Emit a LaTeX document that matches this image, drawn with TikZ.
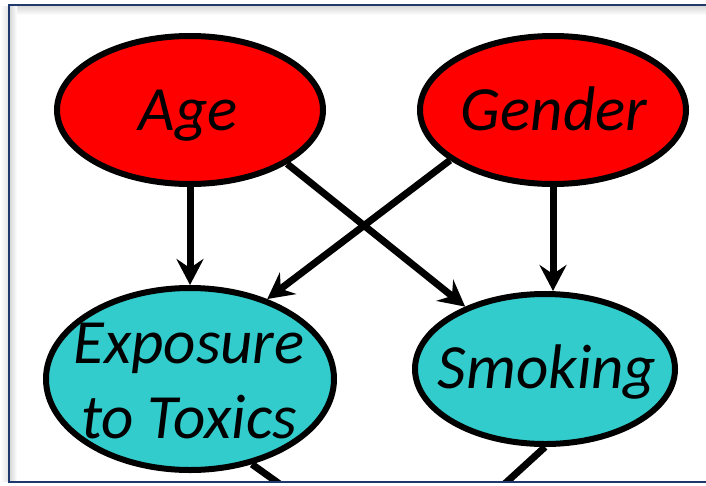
\documentclass[tikz,border=0pt]{standalone}
\usepackage{fontspec}
\setmainfont{Carlito}
\usetikzlibrary{shapes.geometric,arrows.meta}
\definecolor{framenavy}{RGB}{31,56,110}
\definecolor{nodered}{RGB}{255,0,0}
\definecolor{nodecyan}{RGB}{51,204,204}
\tikzset{
  varell/.style={shape=ellipse, draw=black, line width=6pt, inner sep=0pt},
  redell/.style={varell, fill=nodered},
  cyanell/.style={varell, fill=nodecyan},
  lbl/.style={font=\fontsize{63}{75}\selectfont\itshape, inner sep=0pt, align=center, text=black},
  causal/.style={line width=7pt, -{Stealth[length=26pt,width=27pt,inset=9pt]}},
  plain/.style={line width=7pt},
}
\begin{document}
\begin{tikzpicture}[x=1pt,y=-1pt]
\useasboundingbox (0,0) rectangle (706,485);
% frame shadow
\shade[top color=gray!30, bottom color=white] (10,6) rectangle (706,15);
\shade[left color=gray!30, right color=white] (10,6) rectangle (17,481);
\shade[left color=white, right color=gray!20] (0,6) rectangle (8,481);
% nodes
\node[redell, minimum width=266pt, minimum height=148pt] (age) at (190,110) {};
\node[redell, minimum width=266pt, minimum height=148pt] (gen) at (553,110) {};
\node[cyanell, minimum width=288pt, minimum height=182pt] (exp) at (190,379) {};
\node[cyanell, minimum width=260pt, minimum height=150pt] (smk) at (545,369) {};
\node[lbl, anchor=base] (agelbl) at (188,130) {Age};
\node[lbl, anchor=base] (genlbl) at (554,130) {Gender};
\node[lbl, anchor=base] (smklbl) at (547,388) {Smoking};
\node[lbl] (explbl) at (189,381) {Exposure\\to Toxics};
% edges
\draw[causal] (age.south) -- (age.south |- exp.north);
\draw[causal] (gen.south) -- (gen.south |- smk.north);
\draw[causal] (age.-29) -- (smk.142);
\draw[causal] (gen.-154) -- (exp.46);
% connectors leaving the visible region
\coordinate (out1) at (302,500);
\coordinate (out2) at (487,500);
\begin{scope}
\clip (10,6) rectangle (706,481);
\draw[plain] (exp.-54) -- (out1);
\draw[plain] (smk.-90) -- (out2);
\end{scope}
% frame
\draw[framenavy, line width=2.5pt] (9,5) rectangle (730,482);
\end{tikzpicture}
\end{document}
